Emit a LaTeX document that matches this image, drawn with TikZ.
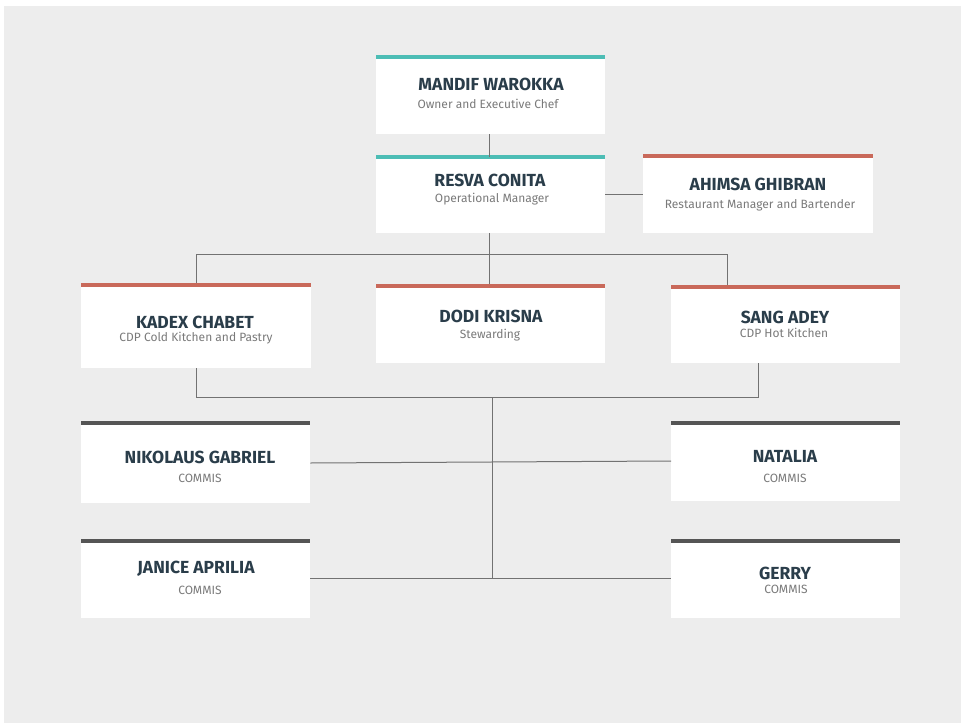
\documentclass[tikz,border=0pt]{standalone}
\usepackage{fontspec}
\setmainfont{Fira Sans}
\definecolor{bgc}{HTML}{EDEDED}
\definecolor{tealc}{HTML}{4DBDB5}
\definecolor{coralc}{HTML}{C9695A}
\definecolor{darkc}{HTML}{555555}
\definecolor{namec}{HTML}{2A3D4A}
\definecolor{subc}{HTML}{7A7A7A}
\definecolor{linec}{HTML}{727272}
\begin{document}
\begin{tikzpicture}[x=1pt,y=-1pt,
  orgbox/.style={fill=white,draw=none,inner sep=0pt,anchor=north west,minimum width=229pt},
  nametext/.style={font=\bfseries\fontsize{17.5}{19}\selectfont,text=namec,inner sep=0pt},
  subtext/.style={font=\fontsize{12}{14}\selectfont,text=subc,inner sep=0pt},
  bar/.style={line width=4pt},
  conn/.style={draw=linec,line width=1pt}
]
\useasboundingbox (0,0) rectangle (961,725);
\fill[white] (0,0) rectangle (961,725);
\fill[bgc] (4,6) rectangle (961,723);

% boxes
\node[orgbox,minimum height=75pt] (m) at (376,59) {};
\node[orgbox,minimum height=74pt] (r) at (376,159) {};
\node[orgbox,minimum width=230pt,minimum height=75pt] (a) at (643,158) {};
\node[orgbox,minimum width=230pt,minimum height=81pt] (k) at (81,287) {};
\node[orgbox,minimum height=75pt] (d) at (376,288) {};
\node[orgbox,minimum height=74pt] (s) at (671,289) {};
\node[orgbox,minimum height=78pt] (n) at (81,425) {};
\node[orgbox,minimum height=76pt] (na) at (671,425) {};
\node[orgbox,minimum height=75pt] (j) at (81,543) {};
\node[orgbox,minimum height=75pt] (g) at (671,543) {};

% bars
\foreach \b in {m,r} \draw[bar,tealc] ([yshift=2pt]\b.north west) -- ([yshift=2pt]\b.north east);
\foreach \b in {a,k,d,s} \draw[bar,coralc] ([yshift=2pt]\b.north west) -- ([yshift=2pt]\b.north east);
\foreach \b in {n,na,j,g} \draw[bar,darkc] ([yshift=2pt]\b.north west) -- ([yshift=2pt]\b.north east);

% texts
\node[nametext] (mt) at (491,84) {MANDIF WAROKKA};
\node[subtext] (ms) at (488,104) {Owner and Executive Chef};
\node[nametext] (rt) at (490,180) {RESVA CONITA};
\node[subtext] (rs) at (492,199) {Operational Manager};
\node[nametext] (at) at (758,184) {AHIMSA GHIBRAN};
\node[subtext] (as) at (760,205) {Restaurant Manager and Bartender};
\node[nametext] (kt) at (195,322) {KADEX CHABET};
\node[subtext] (ks) at (196,338) {CDP Cold Kitchen and Pastry};
\node[nametext] (dt) at (491,316) {DODI KRISNA};
\node[subtext] (ds) at (490,335) {Stewarding};
\node[nametext] (st) at (785,317) {SANG ADEY};
\node[subtext] (ss) at (784,333) {CDP Hot Kitchen};
\node[nametext] (nt) at (200,457) {NIKOLAUS GABRIEL};
\node[subtext] (ns) at (200,478) {COMMIS};
\node[nametext] (nat) at (785,456) {NATALIA};
\node[subtext] (nas) at (785,478) {COMMIS};
\node[nametext] (jt) at (196,569) {JANICE APRILIA};
\node[subtext] (js) at (200,590) {COMMIS};
\node[nametext] (gt) at (785,573) {GERRY};
\node[subtext] (gs) at (786,589) {COMMIS};

% connectors
\coordinate (h1l) at (196,254);
\coordinate (h1r) at (727,254);
\coordinate (h2l) at (196,397);
\coordinate (h2r) at (758,397);
\coordinate (h2c) at (492,397);
\coordinate (h3c) at (492,578);
\draw[conn] (m.south -| 489,0) -- ([yshift=2pt]r.north -| 489,0);
\draw[conn] (r.east |- 0,194) -- (a.west |- 0,194);
\draw[conn] (r.south -| 489,0) -- (h1l -| 489,0);
\draw[conn] (h1l) -- (h1r);
\draw[conn] (h1l) -- ([yshift=4pt]k.north -| h1l);
\draw[conn] (h1l -| 489,0) -- ([yshift=4pt]d.north -| 489,0);
\draw[conn] (h1r) -- ([yshift=4pt]s.north -| h1r);
\draw[conn] (k.south -| h2l) -- (h2l) -- (h2r) -- (s.south -| h2r);
\draw[conn] (h2c) -- (h3c);
\draw[conn] (n.east |- 0,463) -- (na.west |- 0,461);
\draw[conn] (j.east |- 0,578) -- (g.west |- 0,578);
\end{tikzpicture}
\end{document}
